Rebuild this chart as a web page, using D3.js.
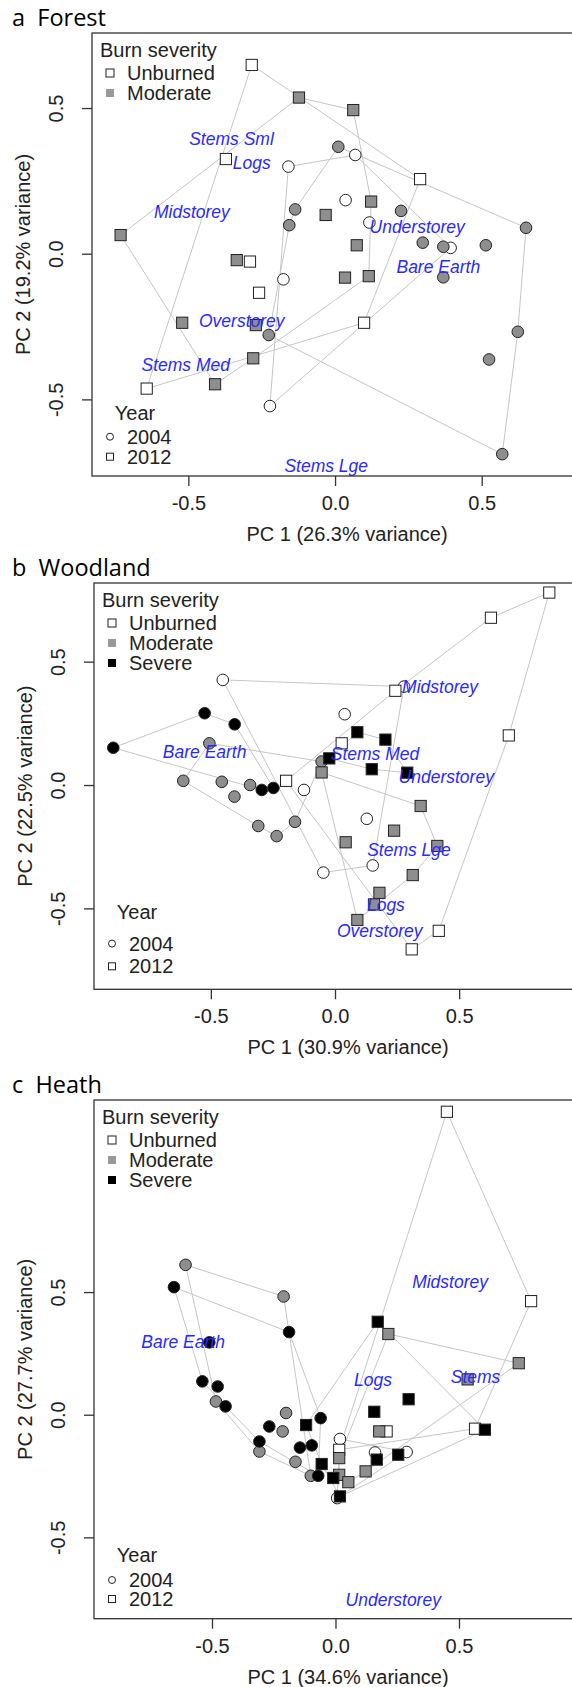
<!DOCTYPE html>
<html>
<head>
<meta charset="utf-8">
<script src="https://cdn.jsdelivr.net/npm/d3@7"></script>
<style>
  html, body { margin: 0; padding: 0; background: #fff; }
  svg { display: block; }
  text { font-family: "Liberation Sans", Arial, sans-serif; fill: #222; }
  .ptitle { font-family: "Open Sans", "Noto Sans", sans-serif; font-size: 23.5px; white-space: pre; fill: #000; }
  .loading { font-style: italic; font-size: 17.5px; fill: #2a2aff; }
</style>
</head>
<body>
<svg id="chart" width="572" height="1687"></svg>
<script>
// ── data (PC1, PC2 scores) ────────────────────────────────────
const X_TICKS = [-0.5, 0, 0.5];
const Y_TICKS = [-0.5, 0, 0.5];

// a  Forest
const forestU04 = [[-0.159,0.299],[0.069,0.339],[0.036,0.184],[0.117,0.107],[0.394,0.020],[-0.176,-0.088],[-0.222,-0.523]];
const forestU12 = [[-0.284,0.648],[-0.372,0.325],[-0.290,-0.027],[-0.259,-0.134],[0.290,0.256],[0.099,-0.237],[-0.642,-0.463]];
const forestM04 = [[0.011,0.367],[-0.136,0.152],[-0.156,0.098],[0.225,0.147],[0.651,0.089],[0.299,0.038],[0.369,0.024],[0.514,0.029],[0.369,-0.081],[-0.226,-0.279],[0.623,-0.268],[0.525,-0.363],[0.570,-0.688]];
const forestM12 = [[-0.123,0.536],[0.062,0.493],[-0.731,0.064],[-0.335,-0.022],[0.123,0.179],[-0.032,0.133],[0.074,0.029],[0.034,-0.082],[0.115,-0.077],[-0.521,-0.237],[-0.270,-0.245],[-0.279,-0.359],[-0.409,-0.448]];
const forestLabels = [["Stems Sml",-0.353,0.393],["Logs",-0.284,0.312],["Midstorey",-0.488,0.142],["Understorey",0.280,0.091],
                      ["Bare Earth",0.352,-0.045],["Overstorey",-0.318,-0.231],["Stems Med",-0.509,-0.383],["Stems Lge",-0.030,-0.729]];

// b  Woodland
const woodU04 = [[-0.452,0.426],[-0.125,-0.020],[0.278,0.399],[0.039,0.287],[0.128,-0.137],[0.152,-0.326],[-0.047,-0.355]];
const woodU12 = [[0.863,0.780],[0.628,0.678],[0.243,0.382],[0.700,0.201],[0.027,0.169],[-0.197,0.017],[0.418,-0.591],[0.309,-0.666]];
const woodM04 = [[-0.506,0.169],[-0.611,0.017],[-0.456,0.013],[-0.342,0.000],[-0.405,-0.047],[-0.309,-0.166],[-0.235,-0.207],[-0.161,-0.149],[-0.054,0.095]];
const woodM12 = [[-0.054,0.051],[0.345,-0.085],[0.238,-0.185],[0.043,-0.232],[0.412,-0.247],[0.313,-0.365],[0.179,-0.437],[0.157,-0.484],[0.090,-0.547]];
const woodS04 = [[-0.525,0.291],[-0.404,0.246],[-0.893,0.151],[-0.295,-0.020],[-0.248,-0.012]];
const woodS12 = [[0.090,0.214],[0.203,0.184],[-0.023,0.108],[0.148,0.064],[0.291,0.050]];
const woodLabels = [["Bare Earth",-0.525,0.135],["Midstorey",0.423,0.396],["Stems Med",0.161,0.128],["Understorey",0.448,0.034],
                    ["Stems Lge",0.298,-0.261],["Logs",0.205,-0.484],["Overstorey",0.180,-0.591]];

// c  Heath
const heathU04 = [[0.007,-0.340],[0.018,-0.099],[0.160,-0.154],[0.288,-0.152]];
const heathU12 = [[0.451,1.235],[0.792,0.463],[0.015,-0.143],[0.207,-0.068],[0.565,-0.057]];
const heathM04 = [[-0.607,0.611],[-0.210,0.482],[-0.484,0.054],[-0.200,0.007],[-0.214,-0.068],[-0.308,-0.150],[-0.162,-0.192],[-0.100,-0.249]];
const heathM12 = [[0.214,0.329],[0.742,0.210],[0.535,0.144],[0.015,-0.245],[0.052,-0.275],[0.015,-0.177],[0.177,-0.068],[0.122,-0.231]];
const heathS04 = [[-0.654,0.520],[-0.188,0.337],[-0.511,0.295],[-0.539,0.136],[-0.477,0.115],[-0.445,0.034],[-0.268,-0.048],[-0.308,-0.109],
                  [-0.144,-0.134],[-0.096,-0.125],[-0.060,-0.014],[-0.070,-0.249]];
const heathS12 = [[0.171,0.379],[0.296,0.063],[0.157,0.012],[-0.119,-0.042],[-0.056,-0.201],[-0.009,-0.258],[0.018,-0.333],[0.167,-0.183],[0.254,-0.163],[0.605,-0.061]];
const heathLabels = [["Bare Earth",-0.617,0.298],["Midstorey",0.464,0.542],["Logs",0.152,0.141],["Stems",0.567,0.155],["Understorey",0.234,-0.755]];

// ── layout ────────────────────────────────────────────────────
const FILL = { Unburned: "#ffffff", Moderate: "#8e8e8e", Severe: "#000000" };
const LEG_FILL = { Unburned: "none", Moderate: "#999999", Severe: "#000000" };
const RIGHT = 602;   // plot box runs past the cropped right edge
const FS = "20px";

const panels = [
  { id: "a", name: "Forest", top: 33, bottom: 476, left: 92,
    xDom: [-0.8285, 0.910], yDom: [-0.763, 0.7576],
    xLab: "PC 1 (26.3% variance)", yLab: "PC 2 (19.2% variance)",
    sev: ["Unburned", "Moderate"], yearOff: [-63, -39.3, -19.3],
    groups: [["Unburned",2004,forestU04],["Unburned",2012,forestU12],["Moderate",2004,forestM04],["Moderate",2012,forestM12]],
    labels: forestLabels },
  { id: "b", name: "Woodland", top: 583, bottom: 989.3, left: 94,
    xDom: [-0.9706, 1.0753], yDom: [-0.828, 0.8188],
    xLab: "PC 1 (30.9% variance)", yLab: "PC 2 (22.5% variance)",
    sev: ["Unburned", "Moderate", "Severe"], yearOff: [-77, -45.7, -23],
    groups: [["Unburned",2004,woodU04],["Unburned",2012,woodU12],["Moderate",2004,woodM04],["Moderate",2012,woodM12],
             ["Severe",2004,woodS04],["Severe",2012,woodS12]],
    labels: woodLabels },
  { id: "c", name: "Heath", top: 1100, bottom: 1618.7, left: 94,
    xDom: [-0.9777, 1.079], yDom: [-0.8316, 1.283],
    xLab: "PC 1 (34.6% variance)", yLab: "PC 2 (27.7% variance)",
    sev: ["Unburned", "Moderate", "Severe"], yearOff: [-63.7, -38.7, -19.7],
    groups: [["Unburned",2004,heathU04],["Unburned",2012,heathU12],["Moderate",2004,heathM04],["Moderate",2012,heathM12],
             ["Severe",2004,heathS04],["Severe",2012,heathS12]],
    labels: heathLabels }
];

const svg = d3.select("#chart");
const fmt = d => d.toFixed(1);

panels.forEach(p => {
  const x = d3.scaleLinear().domain(p.xDom).range([p.left, RIGHT]);
  const y = d3.scaleLinear().domain(p.yDom).range([p.bottom, p.top]);
  const g = svg.append("g");

  g.append("text").attr("class", "ptitle")
    .attr("x", 12).attr("y", p.top - 7)
    .text(p.id + "  " + p.name);

  // hulls per severity x year group
  p.groups.forEach(([sev, yr, pts]) => {
    const hull = d3.polygonHull(pts.map(d => [x(d[0]), y(d[1])]));
    if (hull) {
      g.append("path")
        .attr("d", "M" + hull.join("L") + "Z")
        .attr("fill", "none").attr("stroke", "#c6c6c6").attr("stroke-width", 1);
    }
  });

  // points
  p.groups.forEach(([sev, yr, pts]) => {
    pts.forEach(d => {
      if (yr === 2004) {
        g.append("circle")
          .attr("cx", x(d[0])).attr("cy", y(d[1])).attr("r", 5.8)
          .attr("fill", FILL[sev]).attr("stroke", "#222").attr("stroke-width", 1);
      } else {
        g.append("rect")
          .attr("x", x(d[0]) - 5.6).attr("y", y(d[1]) - 5.6)
          .attr("width", 11.2).attr("height", 11.2)
          .attr("fill", FILL[sev]).attr("stroke", "#222").attr("stroke-width", 1);
      }
    });
  });

  // variable labels
  p.labels.forEach(([lab, lx, ly]) => {
    g.append("text").attr("class", "loading")
      .attr("x", x(lx)).attr("y", y(ly)).attr("dy", "0.35em")
      .attr("text-anchor", "middle")
      .text(lab);
  });

  // box
  g.append("rect")
    .attr("x", p.left).attr("y", p.top)
    .attr("width", RIGHT - p.left).attr("height", p.bottom - p.top)
    .attr("fill", "none").attr("stroke", "#333").attr("stroke-width", 1.3);

  // axes
  const xa = g.append("g").attr("transform", `translate(0,${p.bottom})`)
    .call(d3.axisBottom(x).tickValues(X_TICKS).tickFormat(fmt).tickSize(10).tickPadding(10));
  const ya = g.append("g").attr("transform", `translate(${p.left},0)`)
    .call(d3.axisLeft(y).tickValues(Y_TICKS).tickFormat(fmt).tickSize(10));
  [xa, ya].forEach(a => {
    a.select(".domain").remove();
    a.selectAll("line").attr("stroke", "#333").attr("stroke-width", 1.3);
    a.selectAll("text").attr("font-size", FS).attr("fill", "#222")
      .attr("font-family", '"Liberation Sans", Arial, sans-serif');
  });
  ya.selectAll("text")
    .attr("x", null).attr("y", null)
    .attr("text-anchor", "middle").attr("dy", "0.35em")
    .attr("transform", "translate(-36,0) rotate(-90)");

  g.append("text")
    .attr("x", (p.left + RIGHT) / 2).attr("y", p.bottom + 58).attr("dy", "0.35em")
    .attr("text-anchor", "middle").attr("font-size", FS)
    .text(p.xLab);
  g.append("text")
    .attr("transform", `translate(${p.left - 69},${(p.top + p.bottom) / 2}) rotate(-90)`)
    .attr("dy", "0.35em").attr("text-anchor", "middle").attr("font-size", FS)
    .text(p.yLab);

  // legend: burn severity
  const lg = g.append("g");
  lg.append("text").attr("x", p.left + 8).attr("y", p.top + 17).attr("dy", "0.35em")
    .attr("font-size", FS).text("Burn severity");
  p.sev.forEach((s, i) => {
    const ly = p.top + 40 + 20 * i;
    lg.append("rect").attr("x", p.left + 14).attr("y", ly - 4).attr("width", 8).attr("height", 8)
      .attr("fill", LEG_FILL[s]).attr("stroke", s === "Unburned" ? "#222" : "none").attr("stroke-width", 1);
    lg.append("text").attr("x", p.left + 35).attr("y", ly).attr("dy", "0.35em")
      .attr("font-size", FS).text(s);
  });

  // legend: year
  const yg = g.append("g");
  yg.append("text").attr("x", p.left + 43).attr("y", p.bottom + p.yearOff[0]).attr("dy", "0.35em")
    .attr("text-anchor", "middle").attr("font-size", FS).text("Year");
  [2004, 2012].forEach((yr, i) => {
    const ly = p.bottom + p.yearOff[i + 1];
    if (yr === 2004) {
      yg.append("circle").attr("cx", p.left + 18).attr("cy", ly).attr("r", 3.5)
        .attr("fill", "none").attr("stroke", "#222").attr("stroke-width", 1);
    } else {
      yg.append("rect").attr("x", p.left + 14.5).attr("y", ly - 3.5).attr("width", 7).attr("height", 7)
        .attr("fill", "none").attr("stroke", "#222").attr("stroke-width", 1);
    }
    yg.append("text").attr("x", p.left + 35).attr("y", ly).attr("dy", "0.35em")
      .attr("font-size", FS).text(yr);
  });
});
</script>
</body>
</html>
